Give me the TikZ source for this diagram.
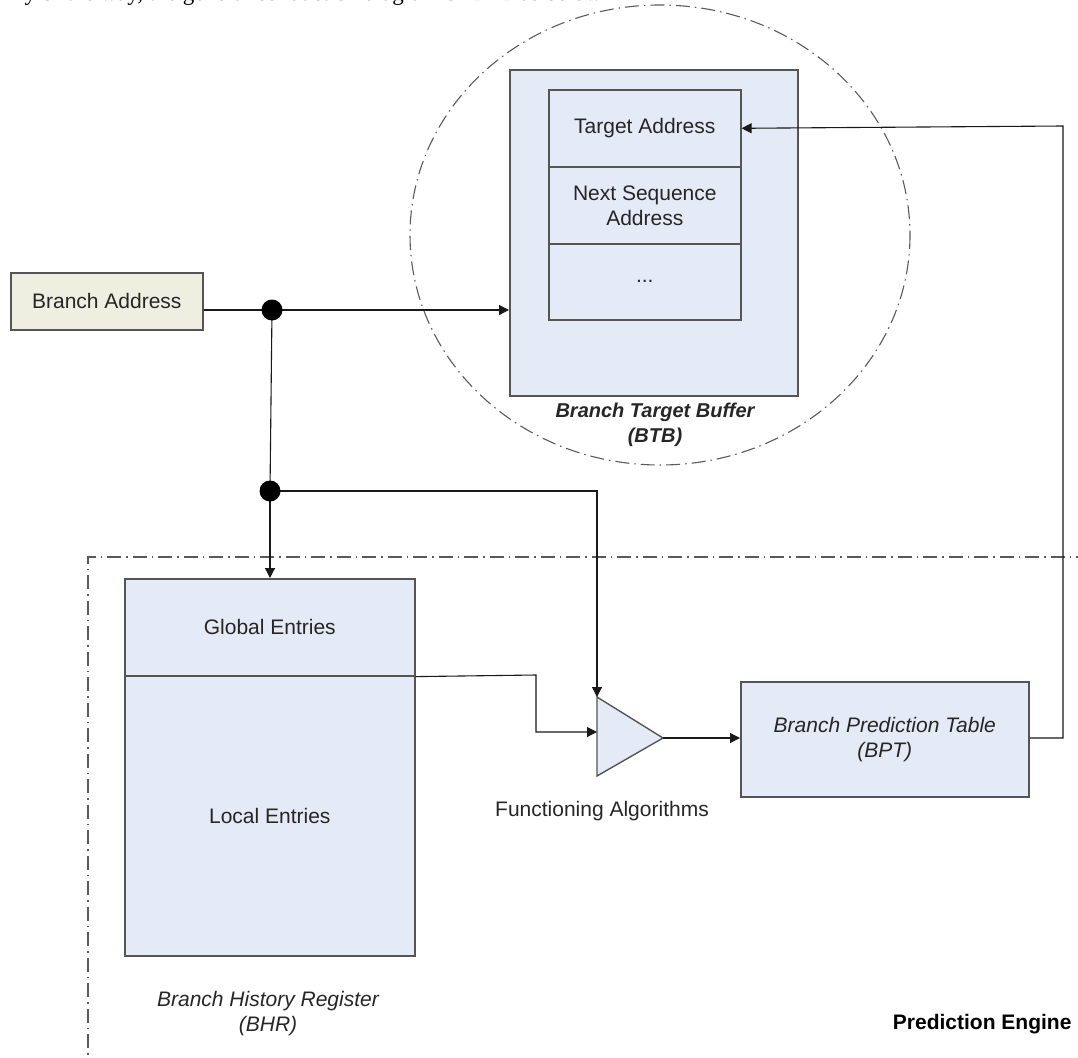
\documentclass[tikz,border=0pt]{standalone}
\usepackage{fontspec}
\setmainfont{Liberation Sans}
\newfontfamily\bodyserif{Liberation Serif}
\usetikzlibrary{arrows.meta,calc}

\definecolor{boxfill}{RGB}{228,234,246}
\definecolor{addrfill}{RGB}{238,239,225}
\definecolor{boxline}{RGB}{85,85,85}
\definecolor{connline}{RGB}{25,25,25}
\definecolor{regionline}{RGB}{90,90,90}

\tikzset{
  box/.style={draw=boxline, line width=1.6pt, fill=boxfill, inner sep=0pt,
              font=\fontsize{21}{25}\selectfont, align=center, text=black!85},
  conn/.style={draw=connline, line width=1.1pt},
  arr/.style={conn, -{Triangle[length=10pt,width=10pt]}},
  region/.style={draw=regionline, line width=1.1pt,
                 dash pattern=on 14pt off 5pt on 1.5pt off 5pt},
  lbl/.style={font=\fontsize{21}{25}\selectfont, align=center, text=black!85},
  junction/.style={fill=black}
}

\begin{document}
\begin{tikzpicture}[x=1pt,y=-1pt]
\useasboundingbox (0,0) rectangle (1078,1057);

% running text line cut by the page edge
\node[anchor=base west, inner sep=0pt, font=\bodyserif\fontsize{23}{26}\selectfont]
  (runtext) at (18,1) {ly of the way, the general conduction diagram of BTB as below};

% dash-dot outlines: BTB ring and prediction engine region
\draw[region] (660,235) ellipse [x radius=250, y radius=230];
\draw[region] (1090,557) -- (88,557) -- (88,1070);

% input
\node[box, fill=addrfill, anchor=north west, minimum width=192pt, minimum height=57pt]
  (addr) at (10,272) {Branch Address};

% branch target buffer
\node[box, anchor=north west, minimum width=288pt, minimum height=326pt] (btb) at (509,69) {};
\node[box, anchor=north west, minimum width=192pt, minimum height=77pt] (ta) at (548,89) {Target Address};
\node[box, anchor=north west, minimum width=192pt, minimum height=77pt] (nsa) at (548,166) {Next Sequence\\Address};
\node[box, anchor=north west, minimum width=192pt, minimum height=76pt] (more) at (548,243) {...};
\node[lbl, font=\bfseries\itshape\fontsize{20}{25}\selectfont, anchor=north] (btblbl) at (655,399) {Branch Target Buffer\\(BTB)};

% branch history register
\node[box, anchor=north west, minimum width=290pt, minimum height=97pt] (glob) at (124,578) {Global Entries};
\node[box, anchor=north west, minimum width=290pt, minimum height=280pt] (loc) at (124,675) {Local Entries};
\node[lbl, font=\itshape\fontsize{21}{25}\selectfont, anchor=north] (bhrlbl) at (268,988) {Branch History Register\\(BHR)};

% functioning algorithms
\coordinate (ftop) at (597,697);
\coordinate (fbot) at (597,776);
\coordinate (fout) at (663,738);
\coordinate (fin) at (597,732);
\draw[draw=boxline, line width=1.4pt, fill=boxfill] (ftop) -- (fout) -- (fbot) -- cycle;
\node[lbl, anchor=north] (falbl) at (602,798) {Functioning Algorithms};

% branch prediction table
\node[box, font=\itshape\fontsize{21}{25}\selectfont, anchor=north west, minimum width=288pt, minimum height=115pt]
  (bpt) at (740,681) {Branch Prediction Table\\(BPT)};

\node[lbl, font=\bfseries\fontsize{21}{24}\selectfont, anchor=base east, text=black] (pe) at (1075,1029) {Prediction Engine};

% junctions
\coordinate (j1) at (272,310);
\coordinate (j2) at (270,491);
\coordinate (gbend) at (536,675);
\coordinate (rtop) at (1063,126);

% connectors
\draw[arr] (addr.east |- j1) -- (j1) -- (btb.west |- j1);
\draw[conn] (j1) -- (j2);
\draw[arr] (j2) -- (j2 |- glob.north);
\draw[arr] (j2) -| (ftop);
\draw[arr] (glob.south east) -- (gbend) |- (fin);
\draw[arr] (fout) -- (bpt.west |- fout);
\draw[arr] (bpt.east |- fout) -| (rtop) -- (ta.east);

\fill[junction] (j1) circle[radius=10.5];
\fill[junction] (j2) circle[radius=10.5];
\end{tikzpicture}
\end{document}
